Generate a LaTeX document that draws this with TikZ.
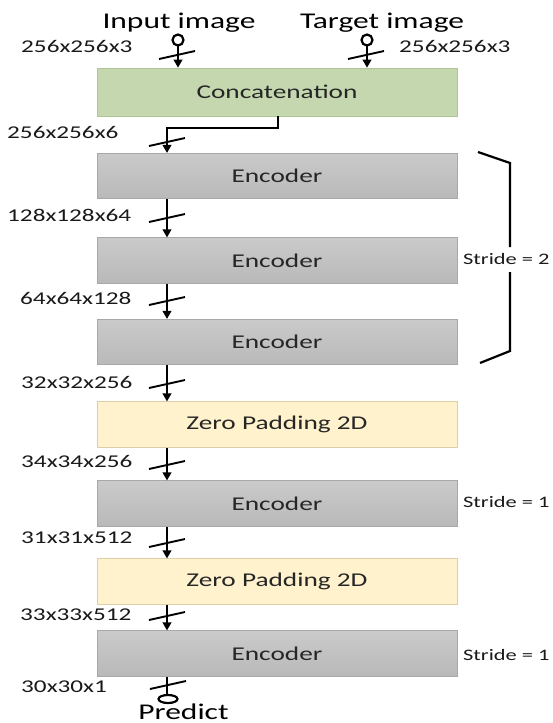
\documentclass[tikz,border=0pt]{standalone}
\usepackage{fontspec}
\setmainfont[FakeStretch=1.4]{Carlito}
\usetikzlibrary{arrows.meta}
\definecolor{gfill}{HTML}{C4D7AF}
\definecolor{gline}{HTML}{AFC596}
\definecolor{yfill}{HTML}{FFF2CC}
\definecolor{yline}{HTML}{DCCFA8}
\definecolor{graytop}{HTML}{CACACA}
\definecolor{graybot}{HTML}{B9B9B9}
\definecolor{grayline}{HTML}{A8A8A8}
\tikzset{
  blk/.style={minimum width=360pt, minimum height=45.5pt, inner sep=0pt,
     font=\fontsize{19.5}{22}\selectfont, text=black!85},
  enc/.style={blk, top color=graytop, bottom color=graybot, draw=grayline, line width=0.6pt},
  cat/.style={blk, minimum height=48pt, fill=gfill, draw=gline, line width=0.6pt},
  zpad/.style={blk, fill=yfill, draw=yline, line width=0.6pt},
  flow/.style={line width=2.8pt, -{Triangle[length=8pt,width=8.5pt]}},
  wire/.style={line width=2.8pt},
  slashln/.style={line width=1.9pt},
  dim/.style={font=\fontsize{18}{20}\selectfont, anchor=west, inner sep=0pt, text=black!90},
  title/.style={font=\fontsize{22.5}{26}\selectfont, inner sep=0pt, anchor=base},
  stride/.style={font=\fontsize{16}{18}\selectfont, anchor=west, inner sep=0pt, text=black!90},
}
\begin{document}
\begin{tikzpicture}[x=1pt,y=-1pt]
\useasboundingbox (0,0) rectangle (553,723);
% boxes
\node[cat] (cc) at (277,92) {Concatenation};
\node[enc] (e1) at (277,176) {Encoder};
\node[enc] (e2) at (277,260.5) {Encoder};
\node[enc] (e3) at (277,342) {Encoder};
\node[zpad] (z1) at (277,424.5) {Zero Padding 2D};
\node[enc] (e4) at (277,503.5) {Encoder};
\node[zpad] (z2) at (277,581.5) {Zero Padding 2D};
\node[enc] (e5) at (277,653.5) {Encoder};
% titles
\node[title] (tin) at (179,28) {Input image};
\node[title] (ttg) at (382,28) {Target image};
\node[title, text depth=0pt] (tpr) at (183.5,719.5) {Predict};
% input circles
\draw[line width=2.2pt] (178,40) circle (5.5pt) coordinate (cin);
\draw[line width=2.2pt] (367,40) circle (5.5pt) coordinate (ctg);
\coordinate (inA) at (178,45.5);
\coordinate (tgA) at (367,45.5);
\draw[flow] (inA) -- (inA |- cc.north);
\draw[flow] (tgA) -- (tgA |- cc.north);
\draw[slashln] (159,59) -- (195,51);
\draw[slashln] (348,59) -- (384,51);
% concat to e1
\coordinate (cx) at (278,116);
\coordinate (cb) at (278,128);
\coordinate (cl) at (167,128);
\draw[flow] (cc.south -| cx) -- (cb) -- (cl) -- (cl |- e1.north);
\draw[slashln] (149,146) -- (185,138);
% arrows between boxes
\foreach \a/\b in {e1/e2, e2/e3, e3/z1, z1/e4, e4/z2, z2/e5}{
  \draw[flow] (167,0 |- \a.south) -- (167,0 |- \b.north);
}
\foreach \y in {218,301,384,465,543,616}{
  \draw[slashln] (149,\y+4) -- (185,\y-4);
}
% output
\coordinate (oc) at (168,699);
\draw[wire] (167,0 |- e5.south) -- (167,695);
\draw[line width=2.2pt] (oc) ellipse (9.5pt and 4pt);
\draw[slashln] (150,689) -- (186,681);
% dimension labels
\node[dim] (d0) at (21,46) {256x256x3};
\node[dim] (d0b) at (399,46) {256x256x3};
\node[dim] (d1) at (7,132) {256x256x6};
\node[dim] (d2) at (7,215) {128x128x64};
\node[dim] (d3) at (20,298) {64x64x128};
\node[dim] (d4) at (21,382) {32x32x256};
\node[dim] (d5) at (21,461) {34x34x256};
\node[dim] (d6) at (21,538) {31x31x512};
\node[dim] (d7) at (20,615) {33x33x512};
\node[dim] (d8) at (21,687) {30x30x1};
% bracket
\coordinate (b1) at (478,152);
\coordinate (b2) at (510,163);
\coordinate (b3) at (510,247);
\coordinate (b4) at (510,272);
\coordinate (b5) at (510,351);
\coordinate (b6) at (480,363);
\draw[line width=2.2pt] (b1) -- (b2) -- (b3);
\draw[line width=2.2pt] (b4) -- (b5) -- (b6);
\node[stride] (s2) at (463,259) {Stride = 2};
\node[stride] (s1a) at (463,502) {Stride = 1};
\node[stride] (s1b) at (463,655) {Stride = 1};
\end{tikzpicture}
\end{document}
